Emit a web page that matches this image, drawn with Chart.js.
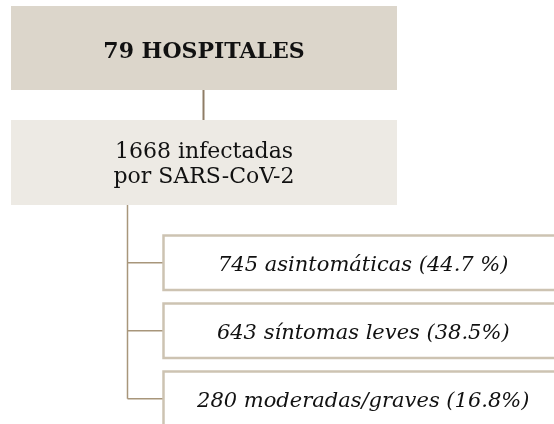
<!DOCTYPE html>
<html>
<head>
<meta charset="utf-8">
<script src="https://cdn.jsdelivr.net/npm/chart.js@4/dist/chart.umd.min.js"></script>
<style>
  html, body { margin: 0; padding: 0; background: #ffffff; }
  #wrap { width: 554px; height: 424px; position: relative; }
</style>
</head>
<body>
<div id="wrap"><canvas id="c" width="554" height="424"></canvas></div>
<script>
// ---- data ----
const rootCount = 79;
const rootLabel = "HOSPITALES";
const infectedCount = 1668;
const infectedLines = ["infectadas", "por SARS-CoV-2"];
const groupCounts = [745, 643, 280];
const groupNames = ["asintomáticas", "síntomas leves", "moderadas/graves"];
const groupPercents = ["44.7 %", "38.5%", "16.8%"];

// ---- layout (in scale units, scales span the canvas) ----
const layout = {
  root:     { x0: 11, x1: 397, y0: 6,   y1: 90 },
  infected: { x0: 11, x1: 397, y0: 120, y1: 205 },
  trunkX: 127.5,
  groupX0: 163.5, groupX1: 563,
  groupY0: [235.5, 303.5, 371.5],
  groupH: 54.5
};

const flowPlugin = {
  id: 'flow',
  afterDatasetsDraw(chart) {
    const ctx = chart.ctx;
    const xs = chart.scales.x, ys = chart.scales.y;
    const X = v => xs.getPixelForValue(v);
    const Y = v => ys.getPixelForValue(v);
    ctx.save();

    // root box
    const r = layout.root;
    ctx.fillStyle = '#dcd6cb';
    ctx.fillRect(X(r.x0), Y(r.y0), X(r.x1) - X(r.x0), Y(r.y1) - Y(r.y0));
    // infected box
    const f = layout.infected;
    ctx.fillStyle = '#edeae4';
    ctx.fillRect(X(f.x0), Y(f.y0), X(f.x1) - X(f.x0), Y(f.y1) - Y(f.y0));

    // connector root -> infected
    const cx = (r.x0 + r.x1) / 2 - 0.5;
    ctx.strokeStyle = '#8f7d66';
    ctx.lineWidth = 2;
    ctx.beginPath();
    ctx.moveTo(X(cx), Y(r.y1));
    ctx.lineTo(X(cx), Y(f.y0));
    ctx.stroke();

    // trunk & branches
    const centers = layout.groupY0.map(y => y + layout.groupH / 2);
    ctx.strokeStyle = '#a8967b';
    ctx.lineWidth = 1.5;
    ctx.beginPath();
    ctx.moveTo(X(layout.trunkX), Y(f.y1));
    ctx.lineTo(X(layout.trunkX), Y(centers[centers.length - 1]));
    centers.forEach(cy => {
      ctx.moveTo(X(layout.trunkX), Y(cy));
      ctx.lineTo(X(layout.groupX0), Y(cy));
    });
    ctx.stroke();

    // group boxes
    ctx.fillStyle = '#ffffff';
    ctx.strokeStyle = '#cdc3b2';
    ctx.lineWidth = 2.5;
    layout.groupY0.forEach(y0 => {
      const px = X(layout.groupX0), py = Y(y0);
      const w = X(layout.groupX1) - px, h = Y(y0 + layout.groupH) - py;
      ctx.fillRect(px, py, w, h);
      ctx.strokeRect(px, py, w, h);
    });

    // texts
    ctx.fillStyle = '#111111';
    ctx.textAlign = 'center';
    ctx.textBaseline = 'alphabetic';
    ctx.font = 'bold 22px "DejaVu Serif"';
    ctx.fillText(rootCount + ' ' + rootLabel, X(cx + 0.5), Y(57.5));

    ctx.font = '22px "DejaVu Serif"';
    ctx.fillText(infectedCount + ' ' + infectedLines[0], X(cx + 0.5), Y(158));
    ctx.fillText(infectedLines[1], X(cx + 0.5), Y(183));

    ctx.font = 'italic 21px "DejaVu Serif"';
    const tx = (layout.groupX0 + layout.groupX1) / 2;
    groupCounts.forEach((n, i) => {
      const label = n + ' ' + groupNames[i] + ' (' + groupPercents[i] + ')';
      ctx.fillText(label, X(tx), Y(centers[i] + 8));
    });
    ctx.restore();
  }
};

new Chart(document.getElementById('c'), {
  type: 'scatter',
  data: { datasets: [{ data: [], pointRadius: 0 }] },
  options: {
    responsive: false,
    animation: false,
    layout: { padding: 0 },
    plugins: { legend: { display: false }, tooltip: { enabled: false } },
    scales: {
      x: { type: 'linear', min: 0, max: 554, display: false },
      y: { type: 'linear', min: 0, max: 424, reverse: true, display: false }
    }
  },
  plugins: [flowPlugin]
});
</script>
</body>
</html>
